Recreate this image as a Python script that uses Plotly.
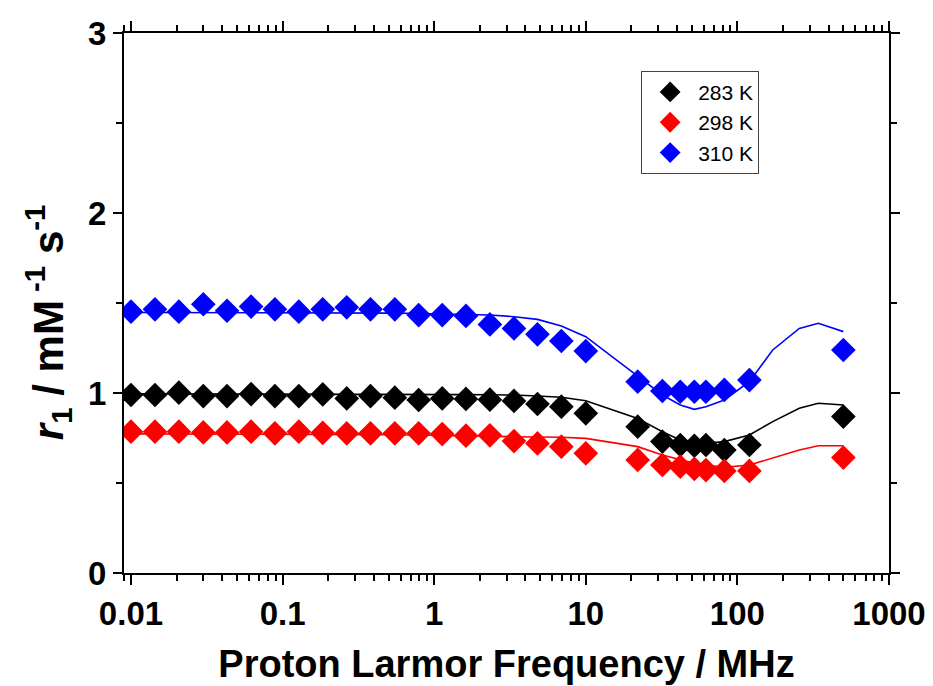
import plotly.graph_objects as go

# Data
freq_mhz = [0.01, 0.0144, 0.0207, 0.03, 0.043, 0.062, 0.089, 0.128, 0.184, 0.265,
            0.38, 0.55, 0.79, 1.13, 1.62, 2.33, 3.36, 4.8, 6.9, 10,
            22, 32, 42, 52, 62, 82, 120, 500]

r1_283 = [0.989, 0.989, 1.002, 0.983, 0.983, 0.994, 0.983, 0.983, 0.992, 0.970,
          0.983, 0.974, 0.961, 0.970, 0.967, 0.963, 0.956, 0.939, 0.924, 0.887,
          0.813, 0.730, 0.711, 0.707, 0.711, 0.683, 0.711, 0.869]
r1_298 = [0.785, 0.785, 0.785, 0.781, 0.781, 0.785, 0.776, 0.785, 0.779, 0.776,
          0.776, 0.776, 0.776, 0.772, 0.763, 0.765, 0.733, 0.720, 0.702, 0.665,
          0.628, 0.600, 0.591, 0.578, 0.572, 0.567, 0.567, 0.641]
r1_310 = [1.452, 1.465, 1.452, 1.493, 1.457, 1.480, 1.465, 1.452, 1.465, 1.476,
          1.465, 1.465, 1.433, 1.433, 1.428, 1.381, 1.359, 1.326, 1.289, 1.233,
          1.063, 1.011, 1.007, 1.007, 1.007, 1.017, 1.072, 1.239]

fit_freq = [0.01, 0.0144, 0.0207, 0.03, 0.043, 0.062, 0.089, 0.128, 0.184, 0.265,
            0.38, 0.55, 0.79, 1.13, 1.62, 2.33, 3.36, 4.8, 6.9, 10,
            22, 32, 42, 52, 62, 82, 120, 171, 256, 342, 500]
fit_283 = [0.995, 0.995, 0.995, 0.995, 0.995, 0.995, 0.995, 0.995, 0.994, 0.994,
           0.994, 0.993, 0.993, 0.992, 0.991, 0.990, 0.989, 0.983, 0.976, 0.957,
           0.859, 0.785, 0.739, 0.720, 0.720, 0.730, 0.767, 0.841, 0.915, 0.943, 0.933]
fit_298 = [0.773, 0.773, 0.773, 0.772, 0.772, 0.772, 0.771, 0.771, 0.770, 0.770,
           0.769, 0.768, 0.767, 0.765, 0.763, 0.760, 0.757, 0.757, 0.754, 0.748,
           0.702, 0.656, 0.628, 0.609, 0.600, 0.587, 0.600, 0.637, 0.683, 0.707, 0.707]
fit_310 = [1.447, 1.447, 1.447, 1.447, 1.447, 1.447, 1.447, 1.446, 1.446, 1.446,
           1.445, 1.444, 1.442, 1.440, 1.437, 1.433, 1.424, 1.409, 1.372, 1.313,
           1.094, 0.989, 0.933, 0.909, 0.924, 0.961, 1.063, 1.239, 1.359, 1.387, 1.341]

names = ["283 K", "298 K", "310 K"]
colors = ["#000000", "#FF0000", "#0000FF"]
data_series = [r1_283, r1_298, r1_310]
fit_series = [fit_283, fit_298, fit_310]

fig = go.Figure()
for fy, c in zip(fit_series, colors):
    fig.add_trace(go.Scatter(x=fit_freq, y=fy, mode="lines",
                             line=dict(color=c, width=1.6), showlegend=False,
                             hoverinfo="skip"))
for ys, c, n in zip(data_series, colors, names):
    fig.add_trace(go.Scatter(x=freq_mhz, y=ys, mode="markers", name=n,
                             marker=dict(symbol="diamond", size=19, color=c,
                                         line=dict(width=0))))

tick_font = dict(family="Liberation Sans, Arial, sans-serif", size=33, color="black")
title_font = dict(family="Liberation Sans, Arial, sans-serif", size=38, color="black")

# the page body adds an 8 px offset, so the figure is 8 px smaller on each side
fig.update_layout(
    width=925, height=678,
    margin=dict(l=116, r=44, t=25, b=113),
    paper_bgcolor="white", plot_bgcolor="white",
    font=dict(family="Liberation Sans, Arial, sans-serif", color="black"),
    legend=dict(x=0.676, y=0.930, xanchor="left", yanchor="top",
                bgcolor="white", bordercolor="#444444", borderwidth=1,
                font=dict(family="Liberation Sans, Arial, sans-serif", size=21, color="black"),
                itemwidth=46, tracegroupgap=0),
    annotations=[dict(
        text="<b><i>r</i><sub>1</sub> / mM<sup> -1</sup> s<sup>-1</sup></b>",
        xref="paper", yref="paper", x=-0.099, y=0.465,
        xanchor="center", yanchor="middle", textangle=-90, showarrow=False,
        font=dict(family="Liberation Sans, Arial, sans-serif", size=42, color="black"),
    )],
)

fig.update_xaxes(
    type="log", range=[-2.046, 3.0], automargin=False,
    showline=True, linecolor="black", linewidth=2, mirror="ticks",
    showgrid=False, zeroline=False,
    ticks="outside", ticklen=10, tickwidth=2, tickcolor="black",
    tickvals=[0.01, 0.1, 1, 10, 100, 1000],
    ticktext=["<b>0.01</b>", "<b>0.1</b>", "<b>1</b>", "<b>10</b>", "<b>100</b>", "<b>1000</b>"],
    tickfont=tick_font,
    minor=dict(ticks="outside", ticklen=6, tickwidth=1.5, tickcolor="black",
               dtick="D1", showgrid=False),
    title=dict(text="<b>Proton Larmor Frequency / MHz</b>", font=title_font, standoff=20),
)
fig.update_yaxes(
    range=[0, 3], automargin=False,
    showline=True, linecolor="black", linewidth=2, mirror="ticks",
    showgrid=False, zeroline=False,
    ticks="outside", ticklen=9, tickwidth=2, tickcolor="black",
    tickvals=[0, 1, 2, 3], ticktext=["<b>0</b>", "<b>1</b>", "<b>2</b>", "<b>3</b>"],
    tickfont=tick_font,
    minor=dict(ticks="outside", ticklen=6, tickwidth=1.5, tickcolor="black",
               dtick=0.5, showgrid=False),
)

fig.write_html("out.html")
